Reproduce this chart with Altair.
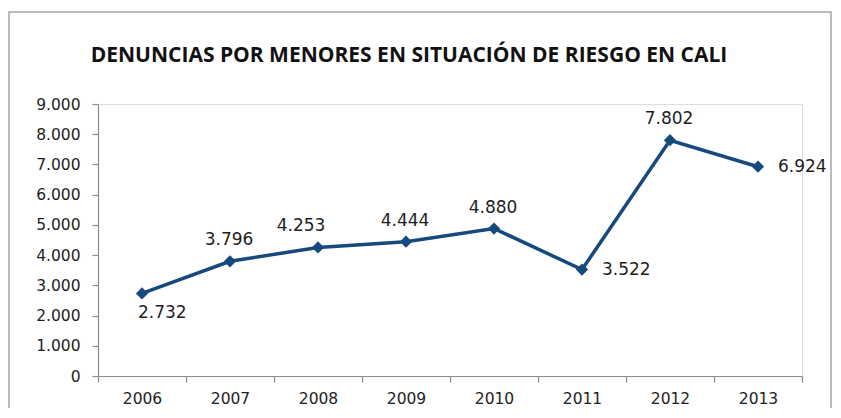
import altair as alt
import pandas as pd

years = ["2006", "2007", "2008", "2009", "2010", "2011", "2012", "2013"]
denuncias = [2732, 3796, 4253, 4444, 4880, 3522, 7802, 6924]

title_text = "DENUNCIAS POR MENORES EN SITUACIÓN DE RIESGO EN CALI"

labels_below = ["2006"]
labels_above = ["2007", "2009", "2010", "2012"]
labels_above_left = ["2008"]
labels_right = ["2011", "2013"]

df = pd.DataFrame({"year": years, "value": denuncias})

LINE = "#164A7C"
TXT = "#1e1e1e"
AX = "#8c8c8c"
FONT = "DejaVu Sans"

x_enc = alt.X(
    "year:O",
    sort=years,
    scale=alt.Scale(type="band", paddingInner=0, paddingOuter=0),
    axis=alt.Axis(
        title=None, labelAngle=0, tickBand="extent", tickSize=6,
        labelPadding=9, labelFont=FONT, labelFontSize=15.5, labelColor=TXT,
        domainColor=AX, tickColor=AX, domainWidth=1.2, tickWidth=1.2,
    ),
)
y_enc = alt.Y(
    "value:Q",
    scale=alt.Scale(domain=[0, 9000], nice=False),
    axis=alt.Axis(
        title=None, values=list(range(0, 9001, 1000)), grid=False,
        tickSize=6, labelPadding=12, labelFont=FONT, labelFontSize=15.5,
        labelColor=TXT, domainColor=AX, tickColor=AX, domainWidth=1.2, tickWidth=1.2,
        labelExpr="replace(format(datum.value, ','), ',', '.')",
    ),
)

base = alt.Chart(df).encode(x=x_enc, y=y_enc)

line = base.mark_line(color=LINE, strokeWidth=3.5)
pts = base.mark_point(shape="diamond", filled=True, color=LINE, size=150, opacity=1)

lab = base.transform_calculate(
    label="replace(format(datum.value, ','), ',', '.')"
)

def text_layer(sel, **kw):
    return lab.transform_filter(
        alt.FieldOneOfPredicate(field="year", oneOf=sel)
    ).mark_text(font=FONT, fontSize=17, color=TXT, baseline="middle", **kw).encode(
        text="label:N"
    )

t_below = text_layer(labels_below, align="left", dx=-4, dy=20)
t_above = text_layer(labels_above, align="center", dx=-1, dy=-21)
t_above_left = text_layer(labels_above_left, align="center", dx=-17, dy=-21)
t_right = text_layer(labels_right, align="left", dx=20, dy=0)

deco = pd.DataFrame({"t": [title_text]})

frame = alt.Chart(deco).mark_rect(
    fill=None, stroke="#a6a6a6", strokeWidth=1.5
).encode(
    x=alt.value(-89), x2=alt.value(733), y=alt.value(-92), y2=alt.value(330)
)

title = alt.Chart(deco).mark_text(
    font="Open Sans", fontSize=21, fontWeight="bold", color="#111111",
    align="center", baseline="alphabetic"
).encode(x=alt.value(311), y=alt.value(-42), text="t:N")

chart = alt.layer(frame, title, line, pts, t_below, t_above, t_above_left, t_right).properties(
    width=704,
    height=272,
    autosize=alt.AutoSizeParams(type="none"),
    padding={"left": 90, "top": 96, "right": 31, "bottom": 32},
).configure_view(stroke=None).configure(background="white")

chart.save("out.html", embed_options={"renderer": "svg", "actions": False})
